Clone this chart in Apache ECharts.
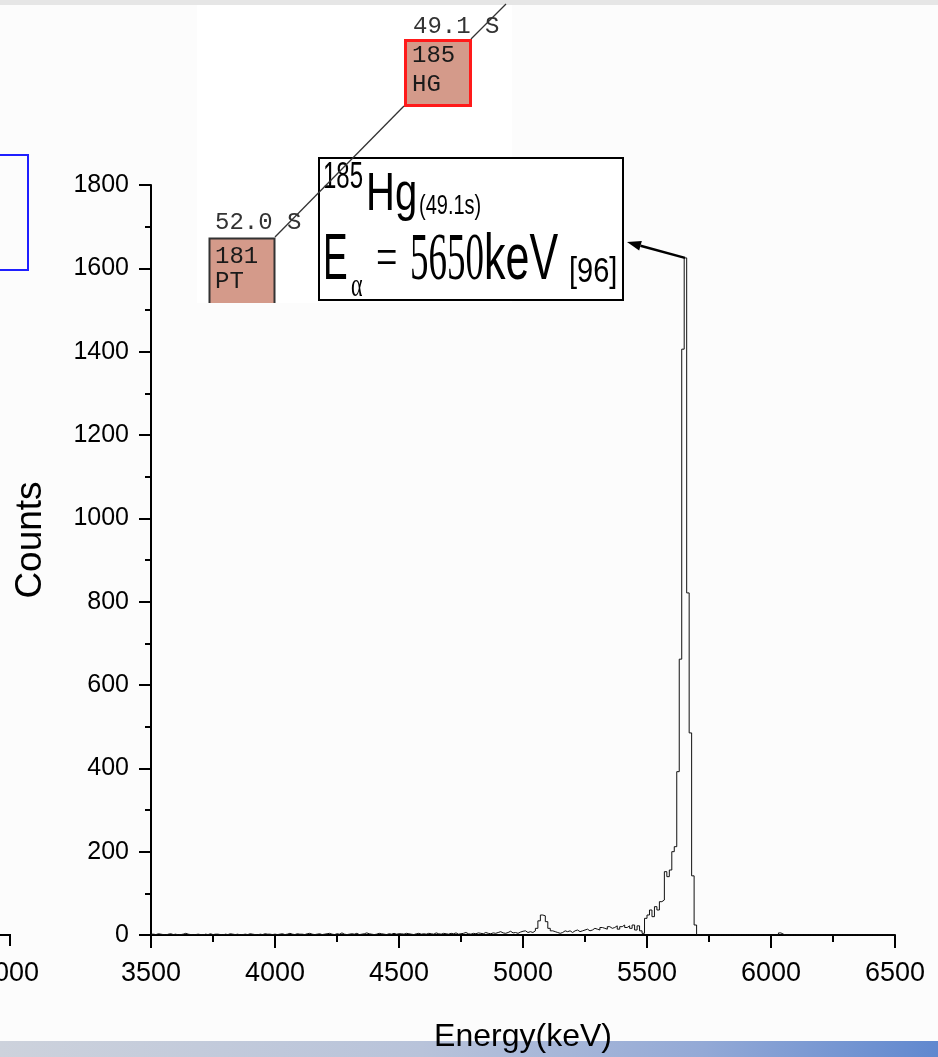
<!DOCTYPE html>
<html>
<head>
<meta charset="utf-8">
<script src="https://cdn.jsdelivr.net/npm/echarts@6/dist/echarts.min.js"></script>
<style>
  html, body { margin: 0; padding: 0; background: #fcfcfc; }
  #chart { width: 938px; height: 1057px; }
</style>
</head>
<body>
<div id="chart"></div>
<script>
// Alpha spectrum of 185Hg, 10 keV channels (left edges from 3500 keV)
const BIN_START = 3500;
const BIN_WIDTH = 10;

// counts per channel, 50 channels per block
const counts3500 = [2,1,3,2,1,0,2,3,1,2, 0,1,2,4,2,1,0,1,2,1, 0,2,1,3,1,2,2,1,0,2, 1,3,2,1,2,0,1,2,1,3, 2,1,0,2,1,3,2,2,1,2];
const counts4000 = [1,2,3,1,2,4,2,1,3,2, 2,1,3,4,2,1,2,3,1,2, 3,4,2,1,3,2,5,2,1,2, 3,2,4,1,2,3,5,3,2,1, 2,4,3,2,1,3,2,4,2,3];
const counts4500 = [3,2,4,3,2,1,3,4,2,3, 2,4,3,2,5,3,2,4,3,2, 4,3,5,2,3,4,6,3,2,4, 3,5,4,3,6,4,3,5,4,6, 8,5,4,6,9,5,6,4,7,9];
const counts5000 = [10,6,8,6,10,16,34,48,46,32, 16,10,8,6,4,6,10,8,10,6, 10,12,8,10,12,14,10,12,16,14, 12,18,16,14,20,16,18,22,14,20, 24,18,22,16,24,12,22,10,4,40];
const counts5500 = [48,60,44,68,60,80,84,152,140,156, 200,212,392,662,1406,1625,821,485,142,24, 0,0,0,0,0,0,0,0,0,0, 0,0,0,0,0,0,0,0,0,0, 0,0,0,0,0,0,0,0,0,0];
const counts6000 = [0,0,0,5,2,0,0,0,0,0, 0,0,0,0,0,0,0,0,0,0, 0,0,0,0,0,0,0,0,0,0, 0,0,0,0,0,0,0,0,0,0, 0,0,0,0,0,0,0,0,0,0];

// axis ticks
const energyTicks = [3500, 4000, 4500, 5000, 5500, 6000, 6500];
const countTicks = [0, 200, 400, 600, 800, 1000, 1200, 1400, 1600, 1800];

// annotated line
const peakEnergy = 5653;
const peakCounts = 1625;

const SANS = "'Liberation Sans',Arial,sans-serif";
const SERIF = "'Liberation Serif','Times New Roman',serif";
const MONO = "'Liberation Mono','Courier New',monospace";

const counts = [].concat(counts3500, counts4000, counts4500, counts5000, counts5500, counts6000);
const histData = counts.map((c, i) => [BIN_START + i * BIN_WIDTH, c]);
histData.push([BIN_START + counts.length * BIN_WIDTH, counts[counts.length - 1]]);

const chart = echarts.init(document.getElementById('chart'), null, { renderer: 'canvas' });

const axisBlack = { color: '#000', width: 2 };
const plain = v => String(v);

chart.setOption({
  animation: false,
  backgroundColor: '#fcfcfc',
  grid: { left: 151, right: 43, top: 185, bottom: 122, outerBoundsMode: 'none' },
  xAxis: {
    type: 'value',
    min: energyTicks[0],
    max: energyTicks[energyTicks.length - 1],
    interval: energyTicks[1] - energyTicks[0],
    axisLine: { show: true, onZero: false, lineStyle: axisBlack },
    axisTick: { show: true, length: 13, lineStyle: axisBlack },
    minorTick: { show: true, splitNumber: 2, length: 7, lineStyle: axisBlack },
    splitLine: { show: false },
    axisLabel: { color: '#000', fontFamily: SANS, fontSize: 27, margin: 25, formatter: plain },
    name: 'Energy(keV)',
    nameLocation: 'middle',
    nameGap: 86,
    nameTextStyle: { color: '#000', fontFamily: SANS, fontSize: 32 }
  },
  yAxis: {
    type: 'value',
    min: countTicks[0],
    max: countTicks[countTicks.length - 1],
    interval: countTicks[1] - countTicks[0],
    axisLine: { show: true, onZero: false, lineStyle: axisBlack },
    axisTick: { show: true, length: 12, lineStyle: axisBlack },
    minorTick: { show: true, splitNumber: 2, length: 6, lineStyle: axisBlack },
    splitLine: { show: false },
    axisLabel: { color: '#000', fontFamily: SANS, fontSize: 25, margin: 22, formatter: plain },
    name: 'Counts',
    nameLocation: 'middle',
    nameGap: 102,
    nameRotate: 90,
    nameTextStyle: { color: '#000', fontFamily: SANS, fontSize: 37, padding: [0, 0, 0, 40] }
  },
  series: [{
    type: 'line',
    step: 'end',
    data: histData,
    symbol: 'none',
    lineStyle: { color: '#111', width: 1 },
    z: 3
  }]
});

// arrow from the peak top to the label box
const tip = [627, 242];
const start = chart.convertToPixel({ gridIndex: 0 }, [peakEnergy, peakCounts]);
const dx = tip[0] - start[0], dy = tip[1] - start[1];
const len = Math.hypot(dx, dy);
const ux = dx / len, uy = dy / len;
const headLen = 14, headHalf = 5;
const base = [tip[0] - ux * headLen, tip[1] - uy * headLen];
const arrowHead = [
  tip,
  [base[0] - uy * headHalf, base[1] + ux * headHalf],
  [base[0] + uy * headHalf, base[1] - ux * headHalf]
];

function txt(text, x, y, font, opts) {
  opts = opts || {};
  return {
    type: 'text', x: x, y: y, z: opts.z || 120,
    scaleX: opts.sx || 1, scaleY: opts.sy || 1,
    style: {
      text: text, font: font, fill: opts.fill || '#000',
      textAlign: opts.align || 'left', align: opts.align || 'left',
      textVerticalAlign: opts.valign || 'middle', verticalAlign: opts.valign || 'middle'
    }
  };
}

chart.setOption({
  graphic: [
    // slide frame: top band and bottom gradient band
    { type: 'rect', z: -1, shape: { x: 0, y: 0, width: 938, height: 5 }, style: { fill: '#e6e6e6' } },
    { type: 'rect', z: -1, shape: { x: 0, y: 1041, width: 938, height: 16 },
      style: { fill: new echarts.graphic.LinearGradient(0, 0, 1, 0, [
        { offset: 0, color: '#cdd2dc' }, { offset: 0.45, color: '#b8c3da' },
        { offset: 0.75, color: '#93a9d6' }, { offset: 1, color: '#6088cf' }]) } },
    // remnants of the neighbouring panel
    { type: 'rect', z: 10, shape: { x: -4, y: 155, width: 32, height: 115 },
      style: { fill: 'none', stroke: '#1f1fff', lineWidth: 2 } },
    { type: 'polyline', z: 10, shape: { points: [[0, 935], [10, 935], [10, 946]] },
      style: { stroke: '#000', lineWidth: 2, fill: 'none' } },
    txt('6000', 9, 974, '27px ' + SANS, { align: 'center' }),

    // decay chain inset
    { type: 'rect', z: 5, shape: { x: 197, y: 5, width: 315, height: 298 }, style: { fill: '#ffffff' } },
    { type: 'rect', z: 20, shape: { x: 405.5, y: 40.5, width: 65, height: 65 },
      style: { fill: '#d49a8a', stroke: '#ff1a1a', lineWidth: 3 } },
    txt('185', 412, 56, '24px ' + MONO, { fill: '#1a1a1a' }),
    txt('HG', 412, 85, '24px ' + MONO, { fill: '#1a1a1a' }),
    txt('49.1 S', 413, 27, '24px ' + MONO, { fill: '#333' }),
    { type: 'rect', z: 20, shape: { x: 209, y: 238, width: 66, height: 65 },
      style: { fill: '#d49a8a' } },
    { type: 'polyline', z: 21, shape: { points: [[209.5, 303], [209.5, 238.5], [274.5, 238.5], [274.5, 303]] },
      style: { stroke: '#333', lineWidth: 2, fill: 'none' } },
    txt('181', 215, 257, '24px ' + MONO, { fill: '#1a1a1a' }),
    txt('PT', 215, 282, '24px ' + MONO, { fill: '#1a1a1a' }),
    txt('52.0 S', 215, 223, '24px ' + MONO, { fill: '#333' }),

    // label box
    { type: 'rect', z: 100, shape: { x: 319, y: 158, width: 304, height: 142 },
      style: { fill: '#ffffff', stroke: '#000', lineWidth: 2 } },
    txt('185', 323, 178, '24px ' + SANS, { sy: 1.5 }),
    txt('Hg', 366, 195, '40px ' + SANS, { sy: 1.32 }),
    txt('(49.1s)', 419, 206, '20px ' + SANS, { sy: 1.4 }),
    txt('E', 323, 261, '37px ' + SANS, { sy: 1.75 }),
    txt('α', 351, 287, '22px ' + SERIF, { sy: 1.5 }),
    txt('=', 376, 261, '38px ' + SERIF, { sy: 1.5 }),
    txt('5650', 410, 261, '37px ' + SERIF, { sy: 1.85 }),
    txt('keV', 484, 261, '43px ' + SANS, { sy: 1.5 }),
    txt('[96]', 569, 272, '29px ' + SANS, { sy: 1.2 }),

    // decay line drawn over the box
    { type: 'polyline', z: 130, shape: { points: [[275, 237], [404, 106]] },
      style: { stroke: '#333', lineWidth: 1.3, fill: 'none' } },
    { type: 'polyline', z: 130, shape: { points: [[471, 39], [506, 4]] },
      style: { stroke: '#333', lineWidth: 1.3, fill: 'none' } },

    // arrow
    { type: 'polyline', z: 140, shape: { points: [start, base] },
      style: { stroke: '#000', lineWidth: 2.5, fill: 'none' } },
    { type: 'polygon', z: 140, shape: { points: arrowHead }, style: { fill: '#000' } }
  ]
});
</script>
</body>
</html>
